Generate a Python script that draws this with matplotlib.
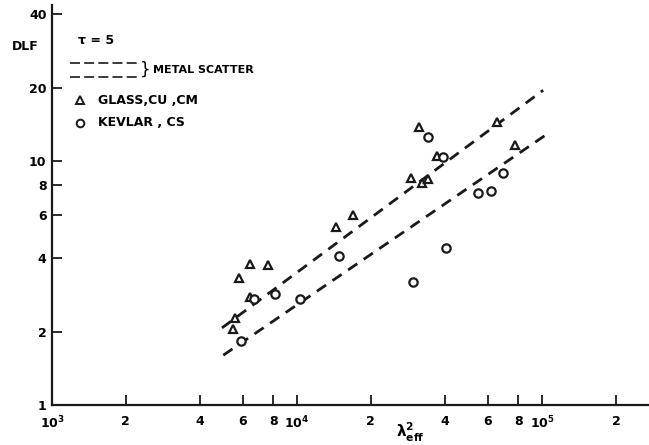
import matplotlib
matplotlib.use("Agg")
import matplotlib.pyplot as plt
from matplotlib.lines import Line2D

# values (log-log)
glass_x = [5.8e3, 6.4e3, 7.6e3, 6.4e3, 5.6e3, 5.5e3, 14.4e3, 16.9e3,
           29.2e3, 32.4e3, 34.3e3, 31.5e3, 37.3e3, 65.5e3, 77.6e3]
glass_y = [3.3, 3.8, 3.75, 2.77, 2.27, 2.05, 5.37, 6.0,
           8.5, 8.1, 8.45, 13.8, 10.5, 14.4, 11.6]

kevlar_x = [5.9e3, 6.7e3, 8.1e3, 10.3e3, 14.8e3, 29.8e3, 40.6e3,
            34.3e3, 39.4e3, 54.8e3, 61.9e3, 69.3e3]
kevlar_y = [1.83, 2.72, 2.85, 2.72, 4.08, 3.19, 4.4,
            12.5, 10.4, 7.39, 7.54, 8.93]

# metal scatter band (two dashed lines)
upper_x = [4.94e3, 1.01e5]
upper_y = [2.07, 19.5]
lower_x = [5.0e3, 1.06e5]
lower_y = [1.60, 13.0]

xticks = [1e3, 2e3, 4e3, 6e3, 8e3, 1e4, 2e4, 4e4, 6e4, 8e4, 1e5, 2e5]
xtick_labels = ["$10^3$", "2", "4", "6", "8", "$10^4$", "2", "4", "6", "8", "$10^5$", "2"]
yticks = [1, 2, 4, 6, 8, 10, 20, 40]
ytick_labels = ["1", "2", "4", "6", "8", "10", "20", "40"]

plt.rcParams["font.family"] = ["DejaVu Sans"]
plt.rcParams["font.weight"] = "bold"
plt.rcParams["mathtext.default"] = "bf"

fig = plt.figure(figsize=(6.49, 4.45), dpi=100)
ax = fig.add_axes([52 / 649, 40 / 445, 597 / 649, 400 / 445])

dash = (0, (4.0, 2.8))
ax.plot(upper_x, upper_y, color="#1a1a1a", lw=2.0, linestyle=dash)
ax.plot(lower_x, lower_y, color="#1a1a1a", lw=2.0, linestyle=dash)

ax.plot(glass_x, glass_y, linestyle="none", marker="^", ms=6, mfc="white",
        mec="#1a1a1a", mew=1.6)
ax.plot(kevlar_x, kevlar_y, linestyle="none", marker="o", ms=6, mfc="white",
        mec="#1a1a1a", mew=1.6)

ax.set_xscale("log")
ax.set_yscale("log")
ax.set_xlim(1e3, 2.73e5)
ax.set_ylim(1, 43.6)

ax.set_xticks(xticks)
ax.set_xticklabels(xtick_labels)
ax.set_yticks(yticks)
ax.set_yticklabels(ytick_labels)
ax.minorticks_off()
ax.tick_params(direction="in", length=7, width=1.3, labelsize=9, color="#1a1a1a")
ax.tick_params(axis="x", pad=7)
ax.tick_params(axis="y", pad=4)

for s in ["top", "right"]:
    ax.spines[s].set_visible(False)
for s in ["left", "bottom"]:
    ax.spines[s].set_linewidth(1.6)
    ax.spines[s].set_color("#1a1a1a")

# legend, hand drawn like the original
tr = ax.transAxes
ax.text(0.044, 0.9125, "τ = 5", transform=tr, fontsize=9, va="center")
for yy in [0.855, 0.82]:
    ax.add_line(Line2D([0.030, 0.147], [yy, yy], transform=tr, color="#1a1a1a",
                       lw=1.2, linestyle=(0, (6, 2.5))))
ax.text(0.148, 0.8375, "}", transform=tr, fontsize=12, va="center", fontweight="normal")
ax.text(0.169, 0.8375, "METAL SCATTER", transform=tr, fontsize=8, va="center")
ax.plot([0.047], [0.7625], transform=tr, marker="^", ms=5.5, mfc="white", mec="#1a1a1a", mew=1.4)
ax.text(0.077, 0.7625, "GLASS,CU ,CM", transform=tr, fontsize=9, va="center")
ax.plot([0.047], [0.705], transform=tr, marker="o", ms=5.5, mfc="white", mec="#1a1a1a", mew=1.4)
ax.text(0.077, 0.705, "KEVLAR , CS", transform=tr, fontsize=9, va="center")

fig.text(25 / 649, 1 - 47 / 445, "DLF", fontsize=9, ha="center", va="center")
fig.text(410 / 649, 13 / 445, r"$\lambda^{2}_{eff}$", fontsize=11, ha="center", va="center")

fig.savefig("out.png", dpi=100)
